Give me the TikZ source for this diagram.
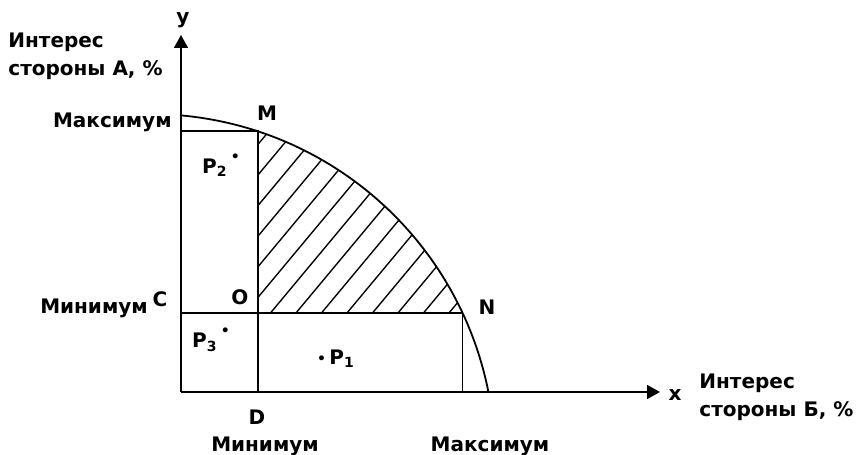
\documentclass[tikz,border=0pt]{standalone}
\usepackage{fontspec}
\setmainfont{DejaVu Sans}
\usetikzlibrary{arrows.meta,positioning,calc}
\newcommand{\ptdot}[1]{\raisebox{#1}{\fontsize{7}{7}\selectfont\textbullet}}

\begin{document}
\begin{tikzpicture}[x=0.5pt, y=0.5pt,
  every node/.style={font=\bfseries\fontsize{10}{14}\selectfont, inner sep=0pt},
  axis/.style={line width=0.9pt, -{Triangle[length=6.5pt, width=7pt]}},
  bound/.style={line width=0.9pt},
  hatch/.style={line width=0.7pt}
]
\useasboundingbox (-181,-63) rectangle (677,392);

% axes and the boundary of the possible outcomes
\coordinate (o) at (0,0);
\coordinate (ytip) at (0,357);
\coordinate (xtip) at (479,0);
\coordinate (ctr) at (-31,-67);
\coordinate (a) at ($(ctr)+(84.84:345)$);
\coordinate (m) at ($(ctr)+(71.76:345)$);
\coordinate (n) at ($(ctr)+(25.04:345)$);
\coordinate (b) at ($(ctr)+(11.2:345)$);
\coordinate (mx) at (m -| o);
\coordinate (d) at (m |- o);
\coordinate (c) at (n -| o);
\coordinate (p) at (m |- n);
\coordinate (q) at (n |- o);

\begin{scope}
  \clip (p) -- (m) arc[start angle=71.76, end angle=25.04, radius=345] -- cycle;
  \foreach \k in {-6,...,9} \draw[hatch] ($(p)+(-13+25.5*\k,0)$) -- ++(170,204);
\end{scope}

\draw[axis] (o) -- (ytip);
\draw[axis] (o) -- (xtip);
\draw[bound] (a) arc[start angle=84.84, end angle=11.2, radius=345];
\draw[bound] (mx) -- (m) -- (d);
\draw[bound] (c) -- (n) -- (q);

% labels
\node (ylab) at (2,372) {y};
\node[anchor=west, align=left] (titA) at (-173,336) {Интерес\\стороны А, \%};
\node[anchor=east] (maxA) at (-9,270) {Максимум};
\node (mlab) at (86,279) {M};
\node (p2) at (40,227) {P\textsubscript{2}\,\ptdot{1.1ex}};
\node (clab) at (-21,93) {C};
\node (minA) at (-87,84) {Минимум};
\node (olab) at (59,95) {O};
\node (nlab) at (306,85) {N};
\node (p3) at (30,52) {P\textsubscript{3}\,\ptdot{1.1ex}};
\node (p1) at (155,33) {\ptdot{0.1ex}\,P\textsubscript{1}};
\node (dlab) at (76,-25) {D};
\node (minB) at (84,-54) {Минимум};
\node (maxB) at (309,-54) {Максимум};
\node (xlab) at (494,-3) {x};
\node[anchor=west, align=left] (titB) at (518,-5) {Интерес\\стороны Б, \%};
\end{tikzpicture}
\end{document}
